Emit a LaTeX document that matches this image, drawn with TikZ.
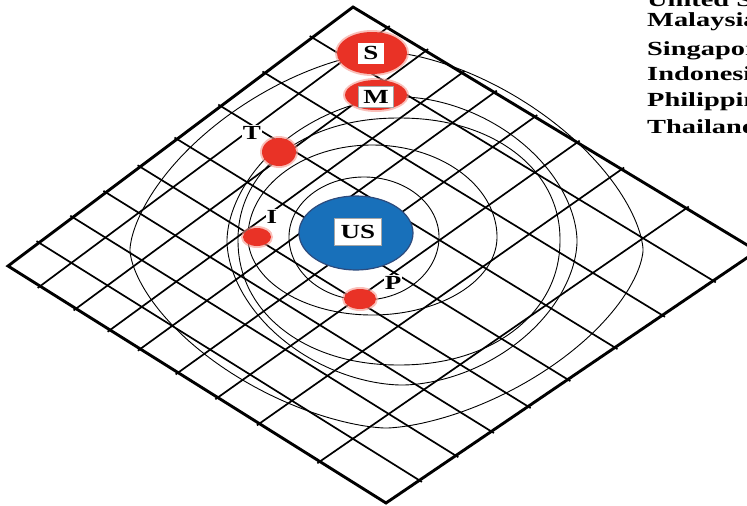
\documentclass[tikz,border=0pt]{standalone}
\usepackage{fontspec}
\setmainfont{Liberation Serif}
\usepackage{graphicx}
\usetikzlibrary{calc}

\definecolor{blobred}{RGB}{233,50,38}
\definecolor{blobhalo}{RGB}{245,150,140}
\definecolor{usblue}{RGB}{24,112,186}
\definecolor{usedge}{RGB}{45,75,125}

\tikzset{
  gridline/.style={line width=1.7pt, black, shorten <=-3pt, shorten >=-3pt},
  frameline/.style={line width=2.9pt, black, line join=miter},
  ringline/.style={line width=0.9pt, black},
  blob/.style={fill=blobred, draw=none},
  halo/.style={fill=blobhalo, draw=none, opacity=0.6},
  tag/.style={font=\bfseries\fontsize{20}{20}\selectfont, fill=white, inner sep=1pt},
  boxlabel/.style={font=\bfseries\fontsize{20}{20}\selectfont, fill=white,
    draw=black!35, line width=0.4pt, inner sep=0pt},
  legend/.style={font=\bfseries\fontsize{20}{20}\selectfont, anchor=base west, inner sep=0pt},
}
\newcommand\wide[1]{\scalebox{1.35}[1]{#1}}
\newcommand\widekey[1]{\scalebox{1.42}[1]{#1}}

% closed ring: centre (#1,#2), left/right/top/bottom radii #3..#6, shape exponent #7
\newcommand\ringpath[7]{%
  \draw[ringline] plot[domain=0:360, samples=241, variable=\t]
   ({#1 + cos(\t)*pow(abs(cos(\t))+0.0001, #7-1)*((cos(\t)>0) ? #4 : #3)},
    {#2 - sin(\t)*pow(abs(sin(\t))+0.0001, #7-1)*((sin(\t)>0) ? #5 : #6)}) -- cycle;}

\begin{document}
\begin{tikzpicture}[x=1pt, y=-1pt]
  \useasboundingbox (0,0) rectangle (747,506);
  \clip (0,0) rectangle (747,506);

  % corners of the ground plane
  \coordinate (T) at (353,7);
  \coordinate (L) at (8,266);
  \coordinate (B) at (386,503);
  \coordinate (R) at (757,251);

  % grid lines parallel to the upper-left edge
  \foreach \f in {0.085,0.18,0.27,0.35,0.45,0.555,0.665,0.825}
    \draw[gridline] ($(T)!\f!(R)$) -- ($(L)!\f!(B)$);
  % grid lines parallel to the upper-right edge
  \foreach \g in {0.118,0.255,0.383,0.51,0.617,0.716,0.812,0.91}
    \draw[gridline] ($(T)!\g!(L)$) -- ($(R)!\g!(B)$);

  % rings of influence
  \ringpath{364}{237}{75}{75}{60}{63}{1}
  \ringpath{372}{237}{124}{125}{92}{78}{1}
  \ringpath{399}{240}{161}{161}{122}{125}{0.95}
  \ringpath{402}{241}{175}{175}{144}{144}{1.1}
  \ringpath{386}{250}{256}{257}{198}{178}{1.25}

  % outline of the plane
  \draw[frameline] (T) -- (R) -- (B) -- (L) -- cycle;

  % United States
  \fill[usblue, draw=usedge, line width=1.2pt] (356,233) ellipse [x radius=57, y radius=37];
  \node[boxlabel, minimum width=47pt, minimum height=27pt] (us) at (358,232) {\wide{US}};

  % Singapore and Malaysia
  \fill[halo] (372,53) ellipse [x radius=37, y radius=23];
  \fill[blob] (372,53) ellipse [x radius=35, y radius=21];
  \node[boxlabel, draw=none, minimum width=26pt, minimum height=21pt] (sg) at (371,53) {\wide{S}};
  \fill[halo] (376,95) ellipse [x radius=33, y radius=17];
  \fill[blob] (376,95) ellipse [x radius=31, y radius=15];
  \node[boxlabel, minimum width=35pt, minimum height=21pt] (my) at (376,97) {\wide{M}};

  % Thailand, Indonesia, Philippines
  \fill[halo] (279,152) ellipse [x radius=19, y radius=16];
  \fill[blob] (279,152) ellipse [x radius=17, y radius=14];
  \node[tag] (th) at (252,133) {\wide{T}};
  \fill[halo] (257,237) ellipse [x radius=16, y radius=11];
  \fill[blob] (257,237) ellipse [x radius=14, y radius=9];
  \node[tag] (id) at (272,217) {\wide{I}};
  \fill[halo] (360,299) ellipse [x radius=18, y radius=12];
  \fill[blob] (360,299) ellipse [x radius=16, y radius=10];
  \node[tag] (ph) at (393,283) {\wide{P}};

  % key
  \node[legend] (k1) at (647,6)   {\widekey{United States}};
  \node[legend] (k2) at (647,27)  {\widekey{Malaysia}};
  \node[legend] (k3) at (647,55)  {\widekey{Singapore}};
  \node[legend] (k4) at (647,80)  {\widekey{Indonesia}};
  \node[legend] (k5) at (647,106) {\widekey{Philippines}};
  \node[legend] (k6) at (647,133) {\widekey{Thailand}};
\end{tikzpicture}
\end{document}
